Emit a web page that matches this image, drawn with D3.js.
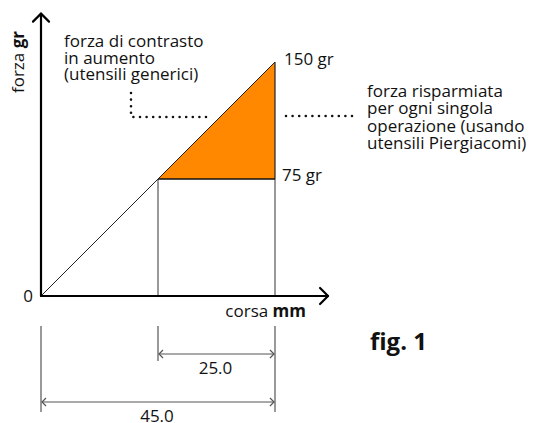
<!DOCTYPE html>
<html>
<head>
<meta charset="utf-8">
<script src="https://cdn.jsdelivr.net/npm/d3@7"></script>
<style>
  body { margin: 0; background: #fff; }
  text { font-family: "Open Sans", sans-serif; font-size: 17px; fill: #111; }
</style>
</head>
<body>
<div id="chart-area"></div>
<script>
// values (mm / gr)
var strokeMm = [0, 22.5, 45];
var forceGr = [0, 75, 150];
var axisMax = {x: 55.2, y: 181};
var forceLabels = ['150 gr', '75 gr'];
var dims = [
  {from: 22.5, to: 45, label: '25.0'},
  {from: 0, to: 45, label: '45.0'}
];
var noteLeft = ['forza di contrasto', 'in aumento', '(utensili generici)'];
var noteRight = ['forza risparmiata', 'per ogni singola', 'operazione (usando', 'utensili Piergiacomi)'];

var width = 535, height = 423;
var svg = d3.select('#chart-area').append('svg')
  .attr('width', width)
  .attr('height', height);

var x = d3.scaleLinear().domain([0, 45]).range([41, 275]);
var y = d3.scaleLinear().domain([0, 150]).range([296, 62]);

var grey = '#555';

// saved force triangle
svg.append('path')
  .attr('d', d3.line()([[x(strokeMm[1]), y(forceGr[1])], [x(strokeMm[2]), y(forceGr[2])], [x(strokeMm[2]), y(forceGr[1])]]))
  .attr('fill', '#ff8800');

// guide lines
svg.append('line')
  .attr('x1', x(strokeMm[1])).attr('x2', x(strokeMm[1]))
  .attr('y1', y(forceGr[1])).attr('y2', y(0))
  .attr('stroke', grey).attr('stroke-width', 1.2);
svg.append('line')
  .attr('x1', x(strokeMm[2])).attr('x2', x(strokeMm[2]))
  .attr('y1', y(forceGr[1])).attr('y2', y(0))
  .attr('stroke', grey).attr('stroke-width', 1.2);
svg.append('line')
  .attr('x1', x(strokeMm[2])).attr('x2', x(strokeMm[2]))
  .attr('y1', y(forceGr[2])).attr('y2', y(forceGr[1]))
  .attr('stroke', '#222').attr('stroke-width', 1.2);
svg.append('line')
  .attr('x1', x(strokeMm[1])).attr('x2', x(strokeMm[2]))
  .attr('y1', y(forceGr[1])).attr('y2', y(forceGr[1]))
  .attr('stroke', '#111').attr('stroke-width', 1.5);

// force line
svg.append('line')
  .attr('x1', x(strokeMm[0])).attr('y1', y(forceGr[0]))
  .attr('x2', x(strokeMm[2])).attr('y2', y(forceGr[2]))
  .attr('stroke', '#222').attr('stroke-width', 1);

// axes with arrows
var ax = svg.append('g').attr('stroke', '#000').attr('stroke-width', 2.2).attr('fill', 'none')
  .attr('stroke-linecap', 'round').attr('stroke-linejoin', 'round');
ax.append('line').attr('x1', x(0)).attr('y1', y(0)).attr('x2', x(axisMax.x)).attr('y2', y(0));
ax.append('path').attr('d', 'M' + (x(axisMax.x) - 8) + ',' + (y(0) - 8) + 'L' + x(axisMax.x) + ',' + y(0) + 'L' + (x(axisMax.x) - 8) + ',' + (y(0) + 8));
ax.append('line').attr('x1', x(0)).attr('y1', y(0)).attr('x2', x(0)).attr('y2', y(axisMax.y));
ax.append('path').attr('d', 'M' + (x(0) - 8) + ',' + (y(axisMax.y) + 8) + 'L' + x(0) + ',' + y(axisMax.y) + 'L' + (x(0) + 8) + ',' + (y(axisMax.y) + 8));

// axis texts
svg.append('text').attr('x', x(0) - 8).attr('y', y(0) + 6).attr('text-anchor', 'end').text('0');
var xl = svg.append('text').attr('x', 306).attr('y', 317).attr('text-anchor', 'end');
xl.append('tspan').text('corsa ');
xl.append('tspan').attr('font-weight', 'bold').text('mm');
var yl = svg.append('text').attr('transform', 'translate(24,62) rotate(-90)').attr('text-anchor', 'middle');
yl.append('tspan').text('forza ');
yl.append('tspan').attr('font-weight', 'bold').text('gr');

svg.append('text').attr('x', x(strokeMm[2]) + 9).attr('y', y(forceGr[2]) + 3).text(forceLabels[0]);
svg.append('text').attr('x', x(strokeMm[2]) + 7).attr('y', y(forceGr[1]) + 2).text(forceLabels[1]);

// notes
svg.append('text').selectAll('tspan').data(noteLeft).join('tspan')
  .attr('x', 64).attr('y', (d, i) => 47 + i * 16.7).text(d => d);
svg.append('text').selectAll('tspan').data(noteRight).join('tspan')
  .attr('x', 367).attr('y', (d, i) => 97 + i * 17.4).text(d => d);

var dots = svg.append('g').attr('stroke', '#111').attr('stroke-width', 2.6).attr('fill', 'none')
  .attr('stroke-linecap', 'round').attr('stroke-dasharray', '0 6.6');
dots.append('path').attr('d', 'M131,93L131,117L209,117');
dots.append('path').attr('d', 'M286,116L358,116');

// dimensions
var dg = svg.append('g').attr('stroke', grey).attr('stroke-width', 1.2).attr('fill', 'none');
dg.append('line').attr('x1', x(0)).attr('x2', x(0)).attr('y1', 326).attr('y2', 412);
dg.append('line').attr('x1', x(strokeMm[1])).attr('x2', x(strokeMm[1])).attr('y1', 326).attr('y2', 361);
dg.append('line').attr('x1', x(strokeMm[2])).attr('x2', x(strokeMm[2])).attr('y1', 326).attr('y2', 412);
var dimY = [354, 402];
dims.forEach(function(d, i) {
  var x1 = x(d.from) + 1, x2 = x(d.to) - 1, yy = dimY[i];
  dg.append('line').attr('x1', x1).attr('x2', x2).attr('y1', yy).attr('y2', yy);
  dg.append('path').attr('d', 'M' + (x1 + 4) + ',' + (yy - 4) + 'L' + x1 + ',' + yy + 'L' + (x1 + 4) + ',' + (yy + 4));
  dg.append('path').attr('d', 'M' + (x2 - 4) + ',' + (yy - 4) + 'L' + x2 + ',' + yy + 'L' + (x2 - 4) + ',' + (yy + 4));
  svg.append('text').attr('x', (x(d.from) + x(d.to)) / 2 - 1).attr('y', yy + 20).attr('text-anchor', 'middle').text(d.label);
});

svg.append('text').attr('x', 370).attr('y', 350)
  .attr('font-weight', 'bold').style('font-size', '24px').text('fig. 1');
</script>
</body>
</html>
